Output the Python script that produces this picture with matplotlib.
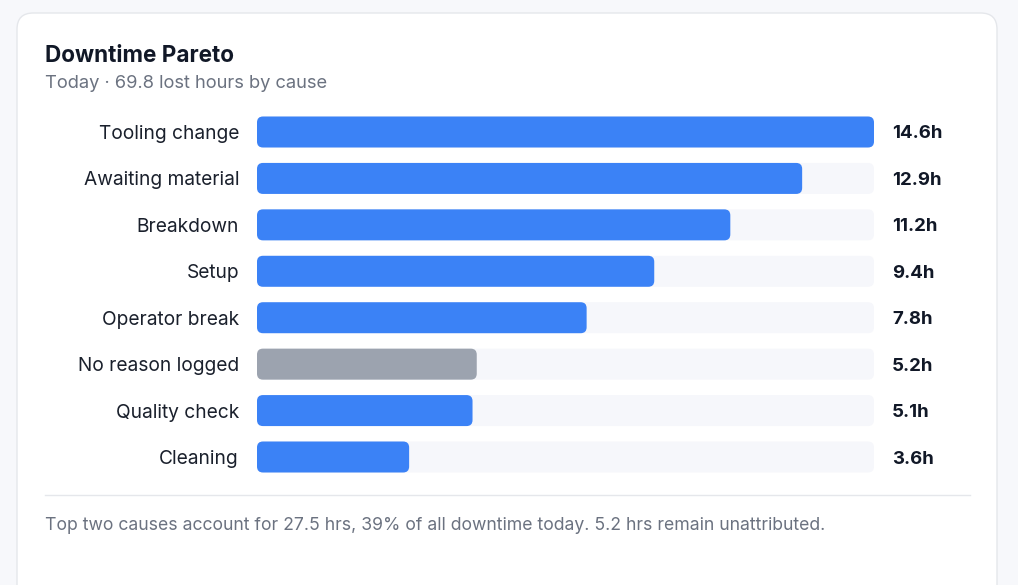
import matplotlib.pyplot as plt
from matplotlib.patches import FancyBboxPatch
import matplotlib.transforms as mtransforms

plt.rcParams['font.family'] = ['Inter', 'DejaVu Sans']

causes = ['Tooling change', 'Awaiting material', 'Breakdown', 'Setup',
          'Operator break', 'No reason logged', 'Quality check', 'Cleaning']
hours = [14.6, 12.9, 11.2, 9.4, 7.8, 5.2, 5.1, 3.6]
value_labels = ['14.6h', '12.9h', '11.2h', '9.4h', '7.8h', '5.2h', '5.1h', '3.6h']
unattributed = 'No reason logged'

title = 'Downtime Pareto'
subtitle = 'Today \u00b7 69.8 lost hours by cause'
footer = 'Top two causes account for 27.5 hrs, 39% of all downtime today. 5.2 hrs remain unattributed.'

W, H = 1018, 585
fig = plt.figure(figsize=(W / 100, H / 100), dpi=100)
fig.patch.set_facecolor('#f7f8fb')

# card
card = FancyBboxPatch((17 / W, -20 / H), 980 / W, (H - 13 + 20) / H,
                      boxstyle='round,pad=0,rounding_size=0.016',
                      mutation_aspect=W / H,
                      transform=fig.transFigure, facecolor='white',
                      edgecolor='#e5e7eb', linewidth=1.0, zorder=-5)
fig.patches.append(card)

fig.text(45 / W, 1 - 62 / H, title, fontsize=16.2, fontweight='bold', color='#111827')
fig.text(45 / W, 1 - 88 / H, subtitle, fontsize=13.2, color='#6b7280')

# bar axes
left, right = 257, 874
top_c, bot_c = 132, 457
step = (bot_c - top_c) / (len(causes) - 1)
ax_top = top_c - step / 2
ax_bot = bot_c + step / 2
ax = fig.add_axes([left / W, 1 - ax_bot / H, (right - left) / W, (ax_bot - ax_top) / H])
ax.set_zorder(2)
ax.set_xlim(0, max(hours))
ax.set_ylim(len(causes) - 0.5, -0.5)
ax.axis('off')

ypos = list(range(len(causes)))
bar_h = 31 / step
px_x = max(hours) / (right - left)
px_y = 1 / step
radius = 6 * px_x
aspect = px_y / px_x


def rounded(container, color):
    for r in container:
        x, y = r.get_x(), r.get_y()
        w, h = r.get_width(), r.get_height()
        r.set_visible(False)
        p = FancyBboxPatch((x, y), w, h, boxstyle='round,pad=0,rounding_size=%f' % radius,
                           mutation_aspect=aspect, facecolor=color, edgecolor='none')
        ax.add_patch(p)


tracks = ax.barh(ypos, [max(hours)] * len(hours), height=bar_h)
rounded(tracks, '#f6f7fb')
colors = ['#9ca3af' if c == unattributed else '#3b82f6' for c in causes]
for i, (v, c) in enumerate(zip(hours, colors)):
    b = ax.barh([i], [v], height=bar_h)
    rounded(b, c)

trans = mtransforms.blended_transform_factory(ax.transAxes, ax.transData)
for i, (c, lab) in enumerate(zip(causes, value_labels)):
    ax.text(-18 / (right - left), i, c, transform=trans, ha='right', va='center_baseline',
            fontsize=13.8, color='#1a202c', clip_on=False)
    ax.text(1 + 18 / (right - left), i, lab, transform=trans, ha='left', va='center_baseline',
            fontsize=13.4, fontweight='bold', color='#111827', clip_on=False)

# separator and footer
fig.add_artist(plt.Line2D([45 / W, 970 / W], [1 - 495 / H, 1 - 495 / H],
                          color='#e5e7eb', linewidth=1.0, transform=fig.transFigure))
fig.text(45 / W, 1 - 530 / H, footer, fontsize=12.7, color='#6b7280')

fig.savefig('out.png', dpi=100, facecolor=fig.get_facecolor())
